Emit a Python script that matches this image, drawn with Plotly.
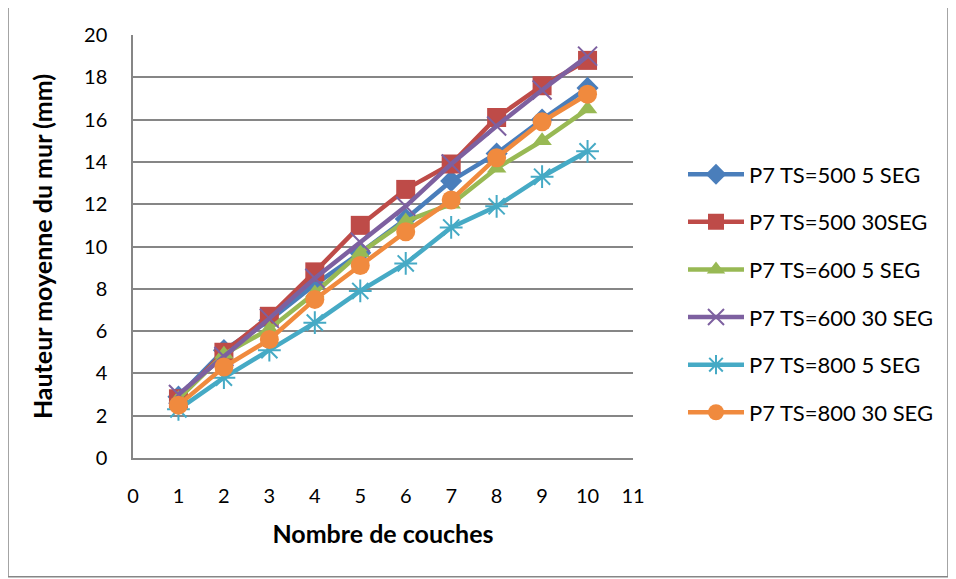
import plotly.graph_objects as go

couches = [1, 2, 3, 4, 5, 6, 7, 8, 9, 10]
ts500_5 = [2.9, 5.1, 6.5, 8.2, 9.7, 11.3, 13.1, 14.4, 16.0, 17.5]
ts500_30 = [2.8, 5.0, 6.7, 8.8, 11.0, 12.7, 13.9, 16.1, 17.6, 18.8]
ts600_5 = [2.8, 4.9, 6.1, 7.8, 9.7, 11.2, 12.0, 13.7, 15.0, 16.5]
ts600_30 = [3.0, 4.8, 6.6, 8.5, 10.2, 11.9, 13.9, 15.7, 17.4, 19.0]
ts800_5 = [2.3, 3.8, 5.1, 6.4, 7.9, 9.2, 10.9, 11.9, 13.3, 14.5]
ts800_30 = [2.5, 4.3, 5.6, 7.5, 9.1, 10.7, 12.2, 14.2, 15.9, 17.2]

series_names = ["P7 TS=500 5 SEG", "P7 TS=500 30SEG", "P7 TS=600 5 SEG",
                "P7 TS=600 30 SEG", "P7 TS=800 5 SEG", "P7 TS=800 30 SEG"]
series_values = [ts500_5, ts500_30, ts600_5, ts600_30, ts800_5, ts800_30]
colors = ["#4A7EBB", "#BE4B48", "#98B954", "#7D60A0", "#46AAC5", "#F08A3E"]
symbols = ["diamond", "square", "triangle-up", "x-thin-open", "asterisk-open", "circle"]
sizes = [17, 19, 17, 19, 19, 19]

fig = go.Figure()
for i, (name, vals) in enumerate(zip(series_names, series_values)):
    open_sym = symbols[i].endswith("open")
    fig.add_trace(go.Scatter(
        x=couches, y=vals, name=name, mode="lines+markers",
        legendgroup=str(i),
        line=dict(color=colors[i], width=4.5),
        marker=dict(symbol=symbols[i], size=sizes[i], color=colors[i],
                    line=dict(color=colors[i], width=2 if open_sym else 0)),
    ))

font = "Lato, 'Open Sans', sans-serif"
fig.update_layout(
    width=956, height=579,
    margin=dict(l=125, r=331, t=27, b=129, autoexpand=False),
    paper_bgcolor="white", plot_bgcolor="white",
    font=dict(family=font, size=20, color="#000000"),
    showlegend=True,
    legend=dict(x=1.1, y=0.389, xanchor="left", yanchor="middle",
                font=dict(family=font, size=22, color="#000000"),
                tracegroupgap=16, itemwidth=56, bgcolor="rgba(0,0,0,0)"),
    xaxis=dict(range=[0, 11], dtick=1, tick0=0, showgrid=False,
               showline=True, linecolor="#868686", linewidth=1.5,
               zeroline=False, ticks="", ticklen=0, automargin=False,
               ticklabelstandoff=19,
               tickfont=dict(size=20),
               title=dict(text="<b>Nombre de couches</b>", font=dict(size=25), standoff=20)),
    yaxis=dict(range=[0, 20], dtick=2, tick0=0, showgrid=True,
               gridcolor="#868686", gridwidth=1.5,
               showline=True, linecolor="#868686", linewidth=1.5,
               zeroline=False, ticks="", ticklen=0, automargin=False,
               ticklabelstandoff=20,
               tickfont=dict(size=20),
               title=dict(text="<b>Hauteur moyenne du mur (mm)</b>", font=dict(size=25), standoff=24)),
)

# outer chart border
fig.add_shape(type="rect", xref="paper", yref="paper",
              x0=-0.25, x1=1.63, y0=-0.281, y1=1.071,
              line=dict(color="#868686", width=1.5), fillcolor="rgba(0,0,0,0)",
              layer="below")

fig.write_html("out.html")
